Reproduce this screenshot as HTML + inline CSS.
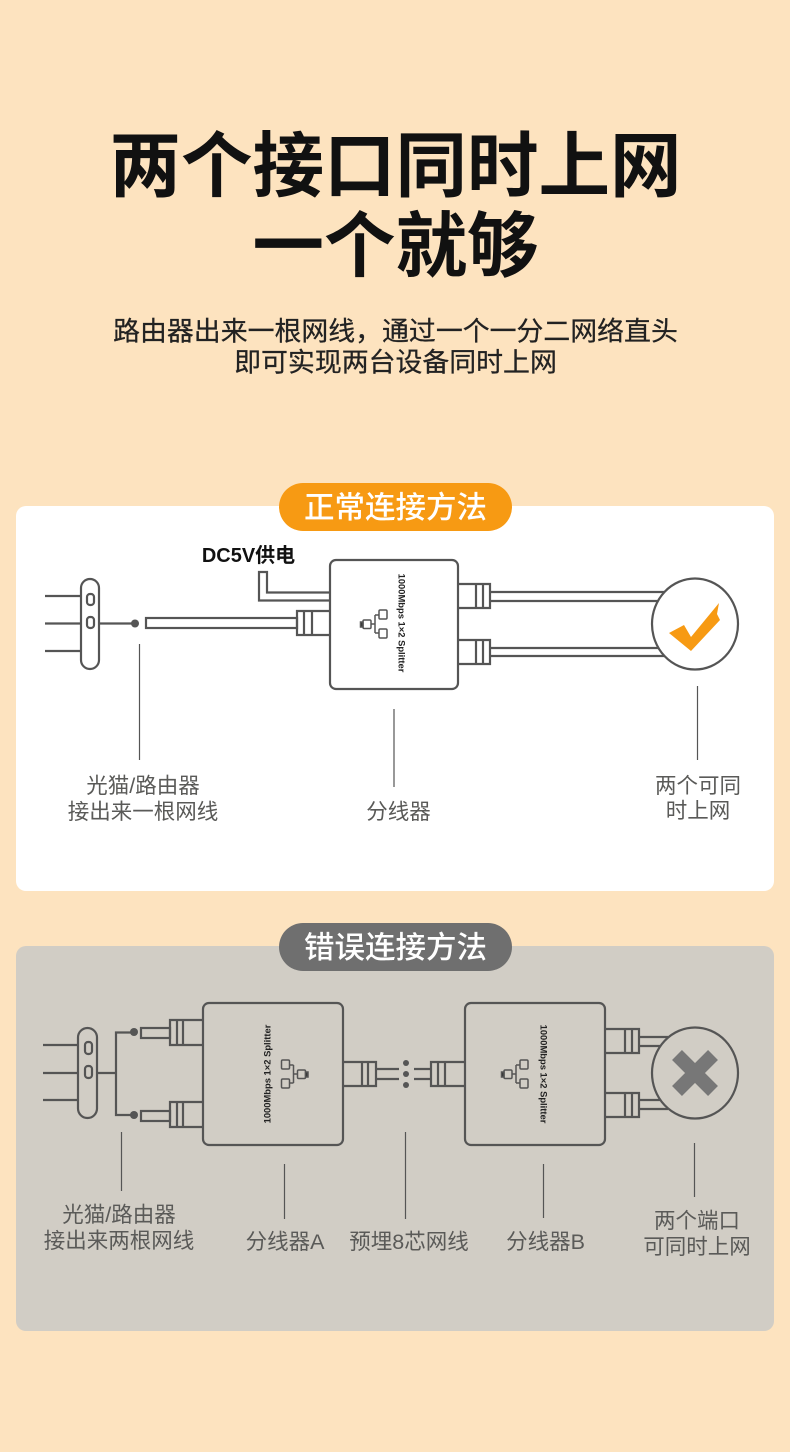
<!DOCTYPE html>
<html lang="zh"><head><meta charset="utf-8"><title>两个接口同时上网</title>
<style>
html,body{margin:0;padding:0;background:#fde3bf}
svg{display:block}
text{font-family:"Liberation Sans","Noto Sans CJK SC",sans-serif}
.l{font-size:21.5px;fill:#5a5a58;text-anchor:middle}
.d{fill:none;stroke:#555;stroke-width:2.2}
.t{stroke:#555;stroke-width:1.2;fill:none}
.s{font-size:9.4px;font-weight:700;fill:#222;text-anchor:middle}
</style></head><body>
<svg xmlns="http://www.w3.org/2000/svg" width="790" height="1452" viewBox="0 0 790 1452">
<defs>
<g id="net" fill="none" stroke="#555" stroke-width="1.5">
<rect x="2" y="11" width="8" height="8.5" rx="1.2"/><rect x="-0.5" y="13" width="2.5" height="5" fill="#333"/>
<path d="M10 15H14M14 6V24M14 6H18M14 24H18"/>
<rect x="18" y="1" width="8" height="9" rx="1.2"/><rect x="18" y="20" width="8" height="9" rx="1.2"/>
</g>
</defs>
<rect width="790" height="1452" fill="#fde3bf"/>

<text x="395.500" y="191" font-size="71.500" font-weight="700" fill="#111" text-anchor="middle">两个接口同时上网</text>
<text x="395.500" y="271" font-size="71.500" font-weight="700" fill="#111" text-anchor="middle">一个就够</text>
<text x="395.500" y="340.500" font-size="26.900" font-weight="400" fill="#222" stroke="#222" stroke-width="0.25" text-anchor="middle">路由器出来一根网线，通过一个一分二网络直头</text>
<text x="395.500" y="371.500" font-size="26.900" font-weight="400" fill="#222" stroke="#222" stroke-width="0.25" text-anchor="middle">即可实现两台设备同时上网</text>

<!-- Correct panel -->
<rect x="16" y="506" width="758" height="385" rx="10" fill="#fff"/>
<rect x="279" y="483" width="233" height="48" rx="24" fill="#f79a13"/>
<text x="395.500" y="518" font-size="30.500" font-weight="500" fill="#fff" text-anchor="middle">正常连接方法</text>
<text x="248.500" y="562" font-size="20" font-weight="700" fill="#111" text-anchor="middle">DC5V供电</text>

<path class="d" d="M45 596H81M45 623.500H81M45 651H81M99 623.500H135"/>
<rect class="d" x="81" y="579" width="18" height="90" rx="9"/>
<rect class="d" x="87" y="594" width="7" height="11" rx="3"/>
<rect class="d" x="87" y="617" width="7" height="11" rx="3"/>
<circle cx="135" cy="623.500" r="4" fill="#555"/>
<rect class="d" x="146" y="618" width="151" height="10"/>
<path class="d" d="M330 611H297V635H330M304 611V635M312 611V635"/>
<path class="d" d="M330 592.500H267V572H259V600.500H330"/>
<rect class="d" x="330" y="560" width="128" height="129" rx="6" fill="#fff"/>
<text class="s" transform="translate(398.500 623) rotate(90)">1000Mbps 1×2 Splitter</text>
<use href="#net" x="361" y="609"/>
<path class="d" d="M458 584H490V608H458M476 584V608M483 584V608M490 592H665M490 601H660"/>
<path class="d" d="M458 640H490V664H458M476 640V664M483 640V664M490 648H660M490 656H665"/>
<ellipse cx="695" cy="624" rx="43" ry="45.500" fill="#fff" stroke="#555" stroke-width="2.200"/>
<path d="M669 633L684 625L691 637L719 603L717 614L720 620L691 651Z" fill="#f79a13"/>
<path class="t" d="M139.500 644V760M394 709V787M697.500 686V760"/>
<text class="l" x="143" y="793">光猫/路由器</text>
<text class="l" x="143" y="819">接出来一根网线</text>
<text class="l" x="398.500" y="819">分线器</text>
<text class="l" x="698" y="793">两个可同</text>
<text class="l" x="698" y="818">时上网</text>

<!-- Wrong panel -->
<rect x="16" y="946" width="758" height="385" rx="10" fill="#d1cdc5"/>
<rect x="279" y="923" width="233" height="48" rx="24" fill="#6f6f6f"/>
<text x="395.500" y="958" font-size="30.500" font-weight="500" fill="#fff" text-anchor="middle">错误连接方法</text>

<path class="d" d="M43 1045H78M43 1073H78M43 1100H78M97 1073H116M134 1032.500H116V1115H134"/>
<rect class="d" x="78" y="1028" width="19" height="90" rx="9.500"/>
<rect class="d" x="85" y="1042" width="7" height="12" rx="3"/>
<rect class="d" x="85" y="1066" width="7" height="12" rx="3"/>
<circle cx="134" cy="1032" r="4" fill="#555"/><circle cx="134" cy="1115" r="4" fill="#555"/>
<rect class="d" x="141" y="1028" width="29" height="10"/>
<rect class="d" x="141" y="1111" width="29" height="10"/>
<path class="d" d="M203 1020H170V1045H203M177 1020V1045M183 1020V1045"/>
<path class="d" d="M203 1102H170V1127H203M177 1102V1127M183 1102V1127"/>
<rect class="d" x="203" y="1003" width="140" height="142" rx="6"/>
<text class="s" transform="translate(270.500 1074) rotate(-90)">1000Mbps 1×2 Splitter</text>
<use href="#net" transform="translate(307.500 1059) scale(-1 1)"/>
<path class="d" d="M343 1062H376V1086H343M362 1062V1086M368 1062V1086M376 1069H399M376 1079H399"/>
<circle cx="406" cy="1063" r="3" fill="#555"/><circle cx="406" cy="1074" r="3" fill="#555"/><circle cx="406" cy="1085" r="3" fill="#555"/>
<path class="d" d="M465 1062H431V1086H465M438 1062V1086M445 1062V1086M431 1069H414M431 1079H414"/>
<rect class="d" x="465" y="1003" width="140" height="142" rx="6"/>
<text class="s" transform="translate(540.500 1074) rotate(90)">1000Mbps 1×2 Splitter</text>
<use href="#net" x="502" y="1059"/>
<path class="d" d="M605 1029H639V1053H605M625 1029V1053M632 1029V1053M639 1037H668M639 1046H660"/>
<path class="d" d="M605 1093H639V1117H605M625 1093V1117M632 1093V1117M639 1100H660M639 1109H668"/>
<ellipse cx="695" cy="1073" rx="43" ry="45.500" fill="#d1cdc5" stroke="#555" stroke-width="2.200"/>
<path d="M677 1055L713 1091M713 1055L677 1091" stroke="#777" stroke-width="14" fill="none"/>
<path class="t" d="M121.500 1132V1191M284.500 1164V1219M405.500 1132V1219M543.500 1164V1218M694.500 1143V1197"/>
<text class="l" x="119" y="1222">光猫/路由器</text>
<text class="l" x="119" y="1248">接出来两根网线</text>
<text class="l" x="285" y="1249">分线器A</text>
<text class="l" x="409" y="1249">预埋8芯网线</text>
<text class="l" x="545.500" y="1249">分线器B</text>
<text class="l" x="697" y="1228">两个端口</text>
<text class="l" x="697" y="1254">可同时上网</text>
</svg>
</body></html>
